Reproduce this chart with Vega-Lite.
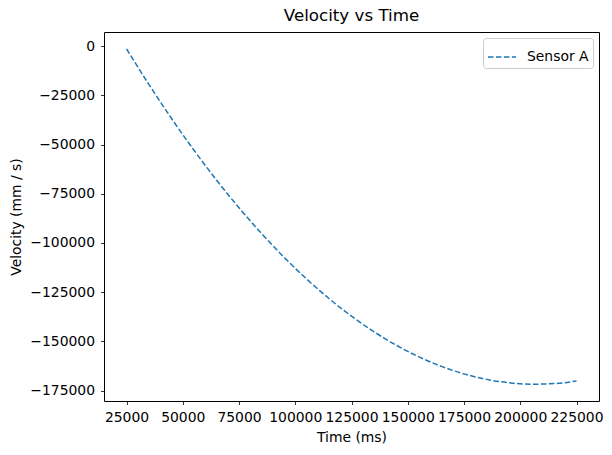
{
  "$schema": "https://vega.github.io/schema/vega-lite/v6.json",
  "autosize": "none",
  "width": 495,
  "height": 369,
  "padding": {"left": 104, "top": 32, "right": 13, "bottom": 54},
  "background": "white",
  "title": {"text": "Velocity vs Time", "font": "DejaVu Sans", "fontSize": 16.7, "fontWeight": "normal", "color": "black", "offset": 7, "anchor": "middle"},
  "config": {
    "font": "DejaVu Sans",
    "view": {"stroke": "black", "strokeWidth": 1},
    "axis": {"domain": false, "grid": false, "tickColor": "black", "tickSize": 3.5, "tickWidth": 0.8, "labelColor": "black", "labelFontSize": 13.9, "labelPadding": 6, "titleColor": "black", "titleFontSize": 13.9, "titleFontWeight": "normal", "labelFont": "DejaVu Sans", "titleFont": "DejaVu Sans"}
  },
  "data": {"values": [
    {"t": 25000, "v": -1311, "s": "Sensor A"},
    {"t": 35000, "v": -19531, "s": "Sensor A"},
    {"t": 45000, "v": -36722, "s": "Sensor A"},
    {"t": 55000, "v": -52884, "s": "Sensor A"},
    {"t": 65000, "v": -68016, "s": "Sensor A"},
    {"t": 75000, "v": -82119, "s": "Sensor A"},
    {"t": 85000, "v": -95192, "s": "Sensor A"},
    {"t": 95000, "v": -107236, "s": "Sensor A"},
    {"t": 105000, "v": -118251, "s": "Sensor A"},
    {"t": 115000, "v": -128236, "s": "Sensor A"},
    {"t": 125000, "v": -137192, "s": "Sensor A"},
    {"t": 135000, "v": -145118, "s": "Sensor A"},
    {"t": 145000, "v": -152015, "s": "Sensor A"},
    {"t": 155000, "v": -157883, "s": "Sensor A"},
    {"t": 165000, "v": -162721, "s": "Sensor A"},
    {"t": 175000, "v": -166529, "s": "Sensor A"},
    {"t": 185000, "v": -169309, "s": "Sensor A"},
    {"t": 195000, "v": -171059, "s": "Sensor A"},
    {"t": 205000, "v": -171779, "s": "Sensor A"},
    {"t": 215000, "v": -171471, "s": "Sensor A"},
    {"t": 225000, "v": -170132, "s": "Sensor A"}
  ]},
  "mark": {"type": "line", "strokeDash": [5.55, 2.4], "strokeWidth": 1.5, "interpolate": "monotone"},
  "encoding": {
    "x": {"field": "t", "type": "quantitative", "title": "Time (ms)", "scale": {"domain": [15000, 235000], "nice": false, "zero": false}, "axis": {"values": [25000, 50000, 75000, 100000, 125000, 150000, 175000, 200000, 225000], "format": "d", "titlePadding": 6}},
    "y": {"field": "v", "type": "quantitative", "title": "Velocity (mm / s)", "scale": {"domain": [-180302, 7212], "nice": false, "zero": false}, "axis": {"values": [0, -25000, -50000, -75000, -100000, -125000, -150000, -175000], "format": "d", "titlePadding": 6}},
    "color": {"field": "s", "type": "nominal", "scale": {"range": ["#1f77b4"]}, "legend": {"title": null, "orient": "top-right", "offset": 6, "symbolType": "stroke", "symbolDash": [5.55, 2.4], "symbolStrokeWidth": 1.5, "symbolSize": 784, "labelFontSize": 13.9, "labelColor": "black", "labelFont": "DejaVu Sans", "strokeColor": "#cccccc", "fillColor": "white", "cornerRadius": 3, "padding": 4, "labelOffset": 10}}
  }
}
